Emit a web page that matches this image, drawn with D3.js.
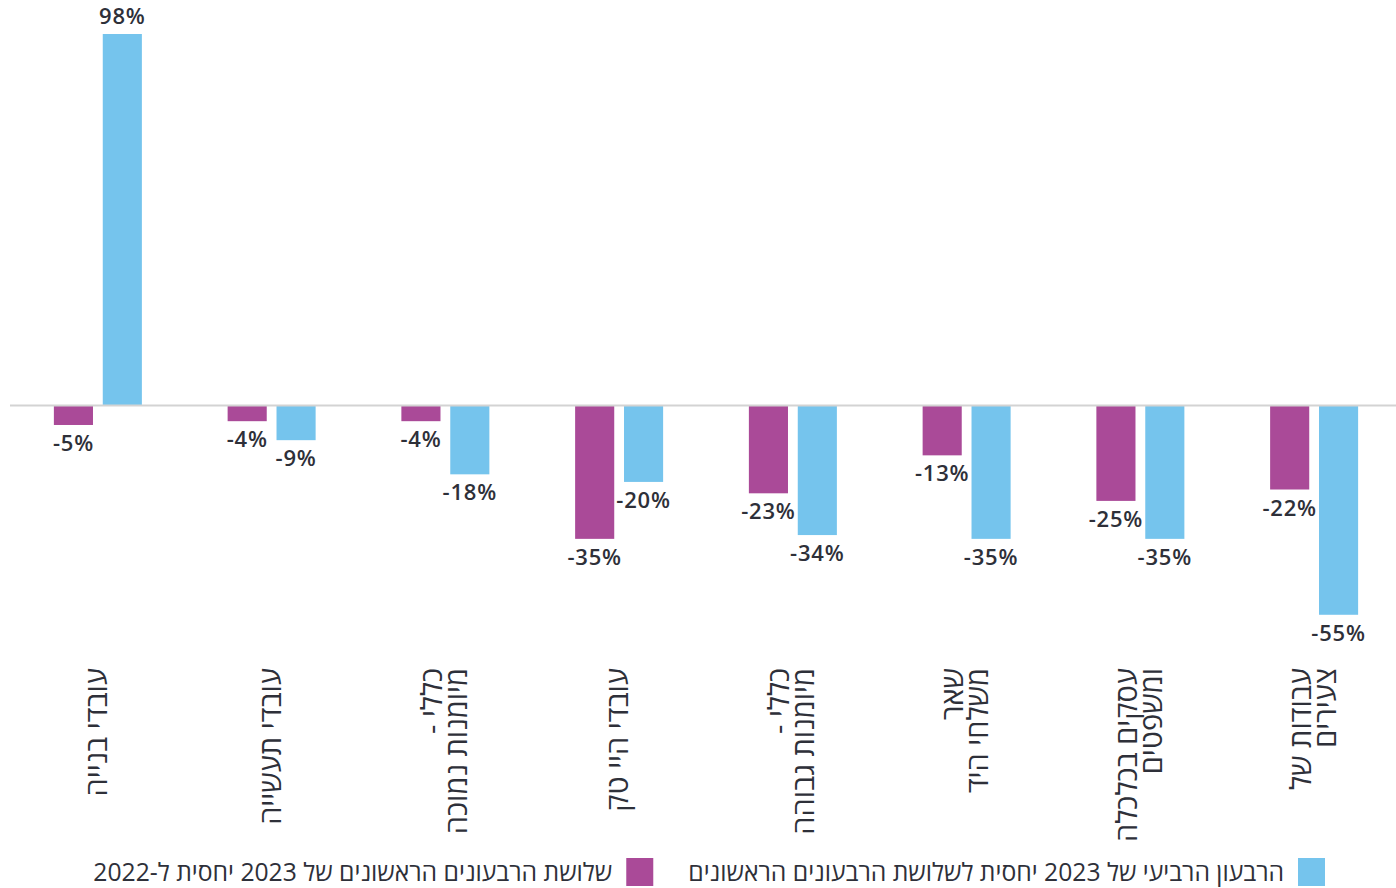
<!DOCTYPE html>
<html lang="he">
<head>
<meta charset="utf-8">
<script src="https://cdn.jsdelivr.net/npm/d3@7"></script>
<style>
  body { margin: 0; background: #fff; }
  svg text { font-family: "Open Sans", "Liberation Sans", "DejaVu Sans", sans-serif; fill: #2e3039; }
</style>
</head>
<body>
<div id="chart"></div>
<script>
// categories, left to right; each label split into its lines
var categories = ["עובדי בנייה", "עובדי תעשייה", "כללי - מיומנות נמוכה", "עובדי היי טק",
                  "כללי - מיומנות גבוהה", "שאר משלחי היד", "עסקים בכלכלה ומשפטים", "עבודות של צעירים"];
var categoryLines = [["עובדי בנייה"], ["עובדי תעשייה"], ["כללי -", "מיומנות נמוכה"], ["עובדי היי טק"],
                     ["כללי -", "מיומנות גבוהה"], ["שאר", "משלחי היד"], ["עסקים בכלכלה", "ומשפטים"], ["עבודות של", "צעירים"]];

var series = ["first3", "q4"];
var seriesNames = ["שלושת הרבעונים הראשונים של 2023 יחסית ל-2022",
                   "הרבעון הרביעי של 2023 יחסית לשלושת הרבעונים הראשונים"];
var colors = ["#aa4a98", "#75c4ed"];

// % change
var first3 = [-5, -4, -4, -35, -23, -13, -25, -22];
var q4 = [98, -9, -18, -20, -34, -35, -35, -55];

const width = 1396, height = 888;

var svg = d3.select("#chart").append("svg")
    .attr("width", width)
    .attr("height", height);

var x0 = d3.scaleBand()
    .domain(categories)
    .range([11, 1401]);

var x1 = d3.scaleBand()
    .domain(series)
    .range([0, 88])
    .paddingInner(0.2);

var y = d3.scaleLinear()
    .domain([0, 98])
    .range([406, 34]);

var rows = categories.map(function(c, i) {
  return { cat: c, lines: categoryLines[i], values: [
    { key: "first3", v: first3[i] },
    { key: "q4", v: q4[i] }
  ] };
});

var groups = svg.selectAll("g.group")
    .data(rows)
    .enter()
    .append("g")
    .attr("class", "group")
    .attr("transform", function(d) {
      return "translate(" + (x0(d.cat) + (x0.bandwidth() - 88) / 2) + ",0)";
    });

groups.selectAll("rect")
    .data(function(d) { return d.values; })
    .enter()
    .append("rect")
    .attr("x", function(d) { return x1(d.key); })
    .attr("width", x1.bandwidth())
    .attr("y", function(d) { return d.v >= 0 ? y(d.v) : y(0); })
    .attr("height", function(d) { return Math.abs(y(d.v) - y(0)); })
    .attr("fill", function(d) { return colors[series.indexOf(d.key)]; });

// value labels
groups.selectAll("text.val")
    .data(function(d) { return d.values; })
    .enter()
    .append("text")
    .attr("class", "val")
    .attr("x", function(d) { return x1(d.key) + x1.bandwidth() / 2; })
    .attr("y", function(d) { return d.v >= 0 ? y(d.v) - 10 : y(d.v) + 26; })
    .attr("text-anchor", "middle")
    .attr("font-size", "22px")
    .attr("font-weight", 600)
    .attr("letter-spacing", "0.8px")
    .text(function(d) { return (d.v < 0 ? "-" : "") + Math.abs(d.v) + "%"; });

// zero line
svg.append("line")
    .attr("x1", 10)
    .attr("x2", width)
    .attr("y1", y(0) - 0.5)
    .attr("y2", y(0) - 0.5)
    .attr("stroke", "#d3d3d3")
    .attr("stroke-width", 2);

// category labels, rotated
groups.each(function(d) {
  var cx = x0.bandwidth() / 2 - (x0.bandwidth() - 88) / 2;
  var n = d.lines.length;
  var g = d3.select(this);
  d.lines.forEach(function(line, i) {
    var bx = cx + 9 + (i - (n - 1) / 2) * 25;
    g.append("text")
        .attr("transform", "translate(" + bx + ",668) rotate(-90)")
        .attr("direction", "rtl")
        .attr("text-anchor", "start")
        .attr("font-size", "29px")
        .text(line);
  });
});

// legend, laid out right to left
var lx = 1325;
[1, 0].forEach(function(si) {
  svg.append("rect")
      .attr("x", lx - 27)
      .attr("y", 858)
      .attr("width", 27)
      .attr("height", 28)
      .attr("fill", colors[si]);
  var t = svg.append("text")
      .attr("x", lx - 27 - 14)
      .attr("y", 881)
      .attr("direction", "rtl")
      .attr("text-anchor", "start")
      .attr("font-size", "24.7px")
      .text(seriesNames[si]);
  lx = lx - 27 - 14 - t.node().getComputedTextLength() - 35;
});
</script>
</body>
</html>
